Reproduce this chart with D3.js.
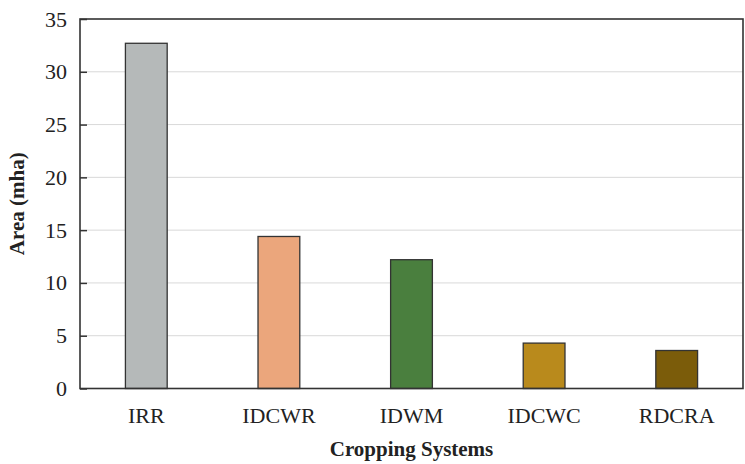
<!DOCTYPE html>
<html><head><meta charset="utf-8">
<script src="https://cdn.jsdelivr.net/npm/d3@7"></script>
<style>body{margin:0;background:#fff}svg{display:block}</style>
</head><body>
<script>
const categories = ["IRR","IDCWR","IDWM","IDCWC","RDCRA"];
const values = [32.7, 14.4, 12.2, 4.3, 3.6];
const colors = ["#b5b9b9","#eba67c","#4a7f3e","#b98a1c","#7b5c0a"];
const yTicks = [0,5,10,15,20,25,30,35];

const W=745,H=464;
const FONT="'Liberation Serif','Times New Roman',serif";
const m={l:80,r:2,t:19,b:75.5};
const svg=d3.select("body").append("svg").attr("width",W).attr("height",H)
  .style("font-family",FONT);
const x=d3.scaleBand().domain(categories).range([m.l,W-m.r]).paddingInner(0.685).paddingOuter(0.3425);
const y=d3.scaleLinear().domain([0,35]).range([H-m.b,m.t]);

svg.append("g").selectAll("line").data(yTicks.slice(1,-1)).join("line")
  .attr("x1",m.l).attr("x2",W-m.r).attr("y1",d=>y(d)).attr("y2",d=>y(d))
  .attr("stroke","#d9d9d9").attr("stroke-width",1);

svg.append("g").selectAll("rect").data(values).join("rect")
  .attr("x",(d,i)=>x(categories[i])).attr("width",x.bandwidth())
  .attr("y",d=>y(d)).attr("height",d=>y(0)-y(d))
  .attr("fill",(d,i)=>colors[i]).attr("stroke","#333").attr("stroke-width",1.3);

svg.append("rect").attr("x",m.l).attr("y",m.t).attr("width",W-m.r-m.l).attr("height",H-m.b-m.t)
  .attr("fill","none").attr("stroke","#333").attr("stroke-width",1.6);

const ya=svg.append("g").attr("transform",`translate(${m.l},0)`)
  .call(d3.axisLeft(y).tickValues(yTicks).tickSize(-7).tickPadding(13).tickFormat(d3.format("d")));
ya.attr("font-family",FONT);
ya.select(".domain").remove();
ya.selectAll("line").attr("stroke","#333").attr("stroke-width",1.5);
ya.selectAll("text").attr("font-size",22).attr("fill","#222");

const xa=svg.append("g").attr("transform",`translate(0,${H-m.b})`)
  .call(d3.axisBottom(x).tickSize(0).tickPadding(19));
xa.attr("font-family",FONT);
xa.select(".domain").remove();
xa.selectAll("text").attr("font-size",22).attr("fill","#222");

svg.append("text").attr("x",(m.l+W-m.r)/2).attr("y",456).attr("text-anchor","middle")
  .attr("font-size",21).attr("font-weight","bold").attr("fill","#222").text("Cropping Systems");
svg.append("text").attr("transform",`translate(24,${(m.t+H-m.b)/2}) rotate(-90)`).attr("text-anchor","middle")
  .attr("font-size",21).attr("font-weight","bold").attr("fill","#222").text("Area (mha)");
</script>
</body></html>
